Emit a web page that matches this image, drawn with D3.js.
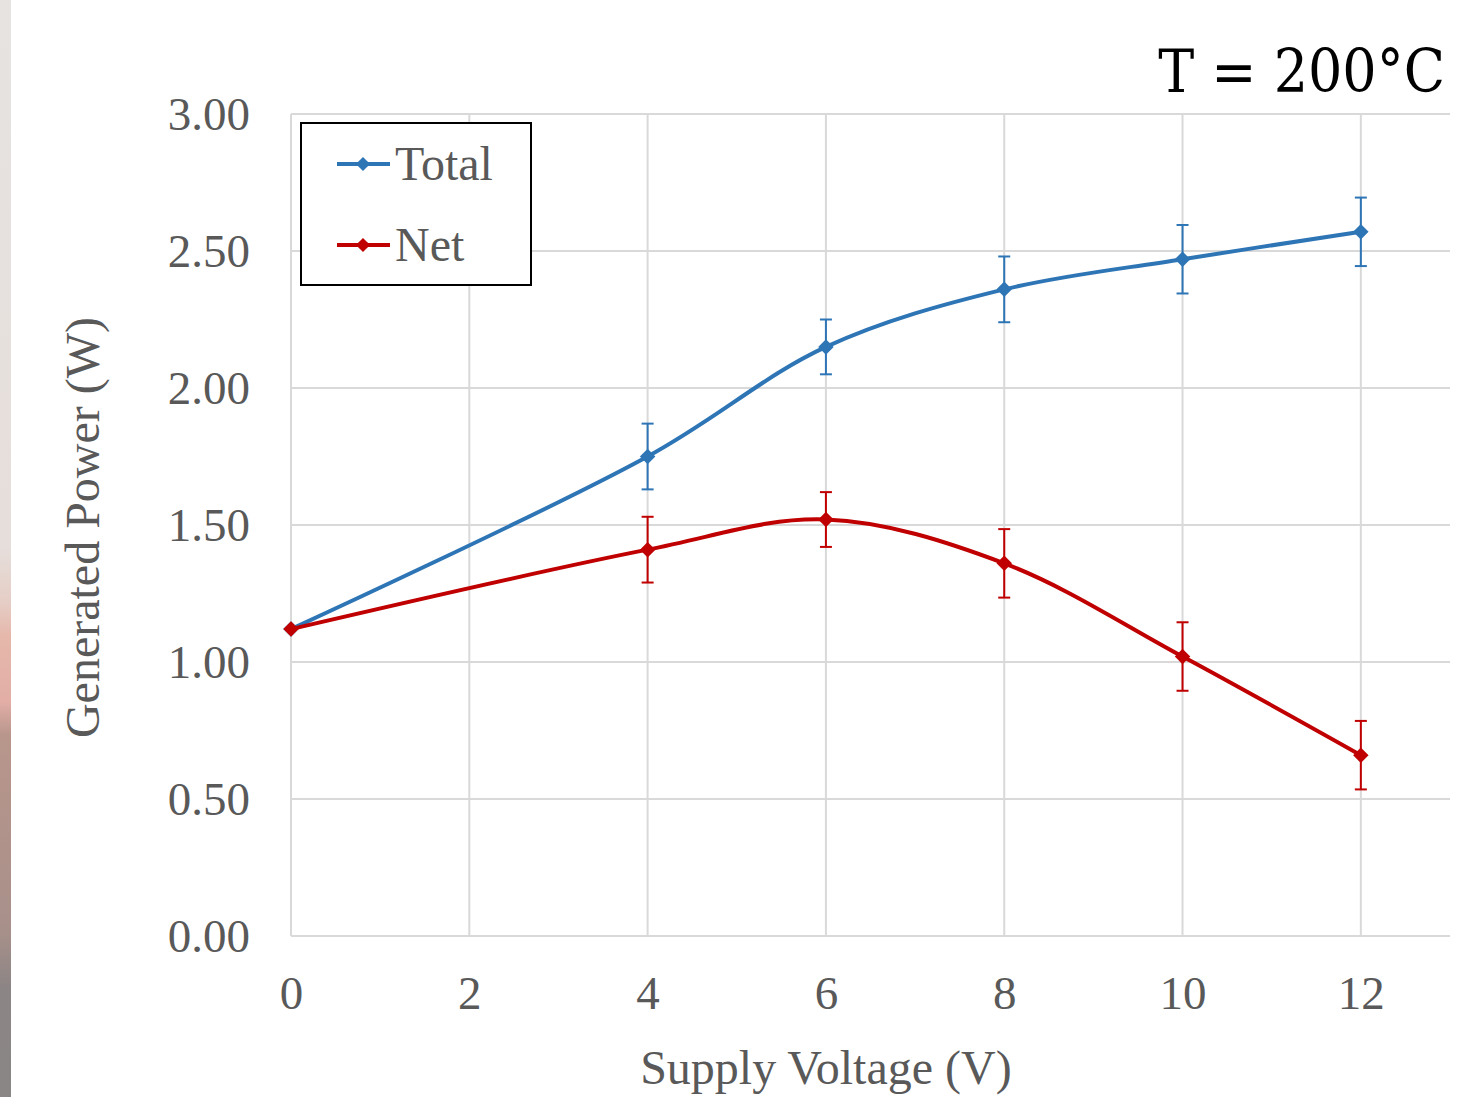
<!DOCTYPE html>
<html>
<head>
<meta charset="utf-8">
<script src="https://cdn.jsdelivr.net/npm/d3@7"></script>
<style>
  body { margin: 0; background: #fff; }
  svg { display: block; }
</style>
</head>
<body>
<svg id="chart" width="1482" height="1097"></svg>
<script>
// data
const voltage = [0, 4, 6, 8, 10, 12];
const totalPower = [1.12, 1.75, 2.15, 2.36, 2.47, 2.57];
const totalErr = [0, 0.12, 0.1, 0.12, 0.125, 0.125];
const netPower = [1.12, 1.41, 1.52, 1.36, 1.02, 0.66];
const netErr = [0, 0.12, 0.1, 0.125, 0.125, 0.125];
const xTicks = [0, 2, 4, 6, 8, 10, 12];
const yTicks = [0, 0.5, 1, 1.5, 2, 2.5, 3];
const seriesNames = ["Total", "Net"];

const margin = { left: 291, right: 32, top: 114, bottom: 161 };
const width = 1482, height = 1097;

const svg = d3.select("#chart");

// the stray strip on the left edge of the picture
const grad = svg.append("defs").append("linearGradient")
    .attr("id", "strip").attr("x1", 0).attr("y1", 0).attr("x2", 0).attr("y2", 1);
[["0%", "#e6e3e1"], ["50%", "#e6dedb"], ["55%", "#e5cdc5"], ["58%", "#e6b7ab"],
 ["64%", "#e2aea6"], ["67%", "#b8968c"], ["85%", "#a8908a"], ["90%", "#8c8585"], ["100%", "#8a8686"]]
  .forEach(s => grad.append("stop").attr("offset", s[0]).attr("stop-color", s[1]));
svg.append("rect").attr("x", 0).attr("y", 0).attr("width", 11).attr("height", height)
   .attr("fill", "url(#strip)");

const x = d3.scaleLinear().domain([0, 13]).range([margin.left, width - margin.right]);
const y = d3.scaleLinear().domain([0, 3]).range([height - margin.bottom, margin.top]);

const gridColor = "#d9d9d9";
const textColor = "#595959";
const font = "'Liberation Serif', 'Times New Roman', serif";

// gridlines
svg.append("g").selectAll("line").data(yTicks).join("line")
    .attr("x1", x(0)).attr("x2", x(13))
    .attr("y1", d => y(d)).attr("y2", d => y(d))
    .attr("stroke", gridColor).attr("stroke-width", 2);
svg.append("g").selectAll("line").data(xTicks).join("line")
    .attr("x1", d => x(d)).attr("x2", d => x(d))
    .attr("y1", y(0)).attr("y2", y(3))
    .attr("stroke", gridColor).attr("stroke-width", 2);

// axes (labels only, the lines are the gridlines)
const xAxis = svg.append("g")
    .attr("transform", `translate(0,${y(0)})`)
    .call(d3.axisBottom(x).tickValues(xTicks).tickSize(0).tickPadding(40).tickFormat(d3.format("d")));
const yAxis = svg.append("g")
    .attr("transform", `translate(${x(0)},0)`)
    .call(d3.axisLeft(y).tickValues(yTicks).tickSize(0).tickPadding(41).tickFormat(d3.format(".2f")));
[xAxis, yAxis].forEach(a => {
  a.select(".domain").remove();
  a.selectAll("text").attr("fill", textColor).style("font-family", font).style("font-size", "47px");
});
yAxis.selectAll("text").attr("dy", "0.34em");
xAxis.selectAll("text").attr("dy", "0.71em");

// axis titles
svg.append("text")
    .attr("x", x(6)).attr("y", 1084)
    .attr("text-anchor", "middle")
    .attr("fill", textColor).style("font-family", font).style("font-size", "48px")
    .text("Supply Voltage (V)");
svg.append("text")
    .attr("transform", `translate(99,${(318 + 737) / 2}) rotate(-90)`)
    .attr("text-anchor", "middle")
    .attr("fill", textColor).style("font-family", font).style("font-size", "48px")
    .text("Generated Power (W)");

// title
svg.append("text")
    .attr("x", 1445).attr("y", 92)
    .attr("text-anchor", "end")
    .attr("fill", "#000").style("font-family", "'DejaVu Serif Condensed', 'DejaVu Serif', serif")
    .style("font-size", "60px")
    .text("T = 200°C");

const series = [
  { name: seriesNames[0], values: totalPower, err: totalErr, color: "#2e75b6" },
  { name: seriesNames[1], values: netPower, err: netErr, color: "#c00000" }
];

const line = d3.line()
    .x(d => x(d[0]))
    .y(d => y(d[1]))
    .curve(d3.curveCatmullRom.alpha(0.5));

const marker = d3.symbol().type(d3.symbolSquare).size(120);

series.forEach(s => {
  const pts = voltage.map((v, i) => [v, s.values[i], s.err[i]]);
  const g = svg.append("g");

  // error bars
  const eb = g.selectAll("g.err").data(pts.filter(p => p[2] > 0)).join("g").attr("class", "err");
  eb.append("line")
    .attr("x1", d => x(d[0])).attr("x2", d => x(d[0]))
    .attr("y1", d => y(d[1] - d[2])).attr("y2", d => y(d[1] + d[2]))
    .attr("stroke", s.color).attr("stroke-width", 2);
  [1, -1].forEach(sign => {
    eb.append("line")
      .attr("x1", d => x(d[0]) - 6).attr("x2", d => x(d[0]) + 6)
      .attr("y1", d => y(d[1] + sign * d[2])).attr("y2", d => y(d[1] + sign * d[2]))
      .attr("stroke", s.color).attr("stroke-width", 2);
  });

  g.append("path")
    .datum(pts)
    .attr("d", line)
    .attr("fill", "none")
    .attr("stroke", s.color)
    .attr("stroke-width", 4)
    .attr("stroke-linejoin", "round");

  g.selectAll("path.mark").data(pts).join("path").attr("class", "mark")
    .attr("transform", d => `translate(${x(d[0])},${y(d[1])}) rotate(45)`)
    .attr("d", marker)
    .attr("fill", s.color);
});

// legend
const legend = svg.append("g").attr("transform", "translate(301,123)");
legend.append("rect")
    .attr("width", 230).attr("height", 162)
    .attr("fill", "#fff").attr("stroke", "#000").attr("stroke-width", 2);
series.forEach((s, i) => {
  const ly = 41 + i * 81;
  legend.append("line")
    .attr("x1", 36).attr("x2", 89).attr("y1", ly).attr("y2", ly)
    .attr("stroke", s.color).attr("stroke-width", 4);
  legend.append("path")
    .attr("transform", `translate(62,${ly}) rotate(45)`)
    .attr("d", d3.symbol().type(d3.symbolSquare).size(100))
    .attr("fill", s.color);
  legend.append("text")
    .attr("x", 94).attr("y", ly + 16)
    .attr("fill", textColor).style("font-family", font).style("font-size", "48px")
    .text(s.name);
});
</script>
</body>
</html>
